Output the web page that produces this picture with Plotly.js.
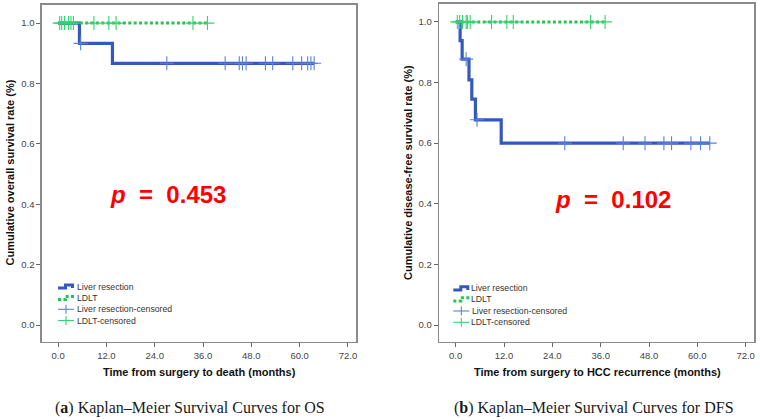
<!DOCTYPE html>
<html>
<head>
<meta charset="utf-8">
<script src="https://cdn.plot.ly/plotly-3.0.1.min.js"></script>
<style>
  html, body { margin: 0; padding: 0; background: #ffffff; }
  #chart { width: 760px; height: 420px; }
</style>
</head>
<body>
<div id="chart"></div>
<script>
// ---- Overall survival (months) ----
const osResectTime = [0, 5.3, 13.5, 63.6];
const osResectSurv = [1.0, 0.933, 0.867, 0.867];
const osResectCensorTime = [5.6, 27.0, 41.5, 45.0, 45.8, 46.7, 51.5, 53.3, 58.3, 60.5, 62.0, 62.8, 63.6];
const osResectCensorSurv = [0.933, 0.867, 0.867, 0.867, 0.867, 0.867, 0.867, 0.867, 0.867, 0.867, 0.867, 0.867, 0.867];
const osLdltTime = [0, 37.1];
const osLdltSurv = [1.0, 1.0];
const osLdltCensorTime = [0.4, 0.9, 1.6, 2.6, 3.2, 3.8, 8.9, 12.6, 14.4, 33.5, 37.1];
const osLdltCensorSurv = [1, 1, 1, 1, 1, 1, 1, 1, 1, 1, 1];

// ---- Disease-free survival (months) ----
const dfsResectTime = [0, 1.1, 1.6, 3.3, 4.0, 4.9, 11.3, 63.1];
const dfsResectSurv = [1.0, 0.938, 0.877, 0.809, 0.745, 0.677, 0.600, 0.600];
const dfsResectCensorTime = [2.6, 5.3, 27.1, 41.6, 47.0, 51.7, 53.6, 58.4, 60.8, 63.1];
const dfsResectCensorSurv = [0.877, 0.677, 0.6, 0.6, 0.6, 0.6, 0.6, 0.6, 0.6, 0.6];
const dfsLdltTime = [0, 37.1];
const dfsLdltSurv = [1.0, 1.0];
const dfsLdltCensorTime = [0.4, 1.0, 1.7, 2.6, 2.9, 3.6, 8.9, 12.7, 14.3, 33.5, 37.1];
const dfsLdltCensorSurv = [1, 1, 1, 1, 1, 1, 1, 1, 1, 1, 1];

// ---- Axis ticks and texts ----
const xTickVals = [0, 12, 24, 36, 48, 60, 72];
const xTickText = ["0.0", "12.0", "24.0", "36.0", "48.0", "60.0", "72.0"];
const yTickVals = [0, 0.2, 0.4, 0.6, 0.8, 1.0];
const yTickText = ["0.0", "0.2", "0.4", "0.6", "0.8", "1.0"];
const pValues = ["0.453", "0.102"];
const xTitles = ["Time from surgery to death (months)", "Time from surgery to HCC recurrence (months)"];
const yTitles = ["Cumulative overall survival rate (%)", "Cumulative disease-free survival rate (%)"];
const captions = ["(<b>a</b>) Kaplan\u2013Meier Survival Curves for OS", "(<b>b</b>) Kaplan\u2013Meier Survival Curves for DFS"];
const legendLabels = ["Liver resection", "LDLT", "Liver resection-censored", "LDLT-censored"];

// ---- Styling ----
const W = 760, H = 420;
const BLUE = "#3359bf", BLUE_LIGHT = "#5b80d8";
const GREEN = "#1fc84c", GREEN_LIGHT = "#35d46e";
const SANS = "Liberation Sans, Arial, sans-serif";
const SERIF = "Liberation Serif, Times New Roman, serif";
const px = x => x / W;
const py = y => 1 - y / H;

function stepLine(t, s, xa, ya, color, dash, width) {
  return { x: t, y: s, xaxis: xa, yaxis: ya, type: "scatter", mode: "lines",
    line: { shape: "hv", color: color, width: width, dash: dash }, showlegend: false, hoverinfo: "skip" };
}
function censorMarks(t, s, xa, ya, color) {
  return { x: t, y: s, xaxis: xa, yaxis: ya, type: "scatter", mode: "markers",
    marker: { symbol: "cross-thin", size: 10, color: color, line: { color: color, width: 1.1 } },
    showlegend: false, hoverinfo: "skip", cliponaxis: false };
}

const data = [
  stepLine(osResectTime, osResectSurv, "x", "y", BLUE, "solid", 3.2),
  stepLine(osLdltTime, osLdltSurv, "x", "y", GREEN, "3px,2.4px", 3),
  censorMarks(osResectCensorTime, osResectCensorSurv, "x", "y", BLUE_LIGHT),
  censorMarks(osLdltCensorTime, osLdltCensorSurv, "x", "y", GREEN_LIGHT),
  stepLine(dfsResectTime, dfsResectSurv, "x2", "y2", BLUE, "solid", 3.2),
  stepLine(dfsLdltTime, dfsLdltSurv, "x2", "y2", GREEN, "3px,2.4px", 3),
  censorMarks(dfsResectCensorTime, dfsResectCensorSurv, "x2", "y2", BLUE_LIGHT),
  censorMarks(dfsLdltCensorTime, dfsLdltCensorSurv, "x2", "y2", GREEN_LIGHT)
];

function xAxis(domain, range) {
  return { domain: domain, range: range, tickvals: xTickVals, ticktext: xTickText,
    ticks: "outside", ticklen: 4, tickwidth: 1, tickcolor: "#666",
    tickfont: { family: SANS, size: 9.5, color: "#444" },
    showgrid: false, zeroline: false, showline: true, mirror: true,
    linecolor: "#8a8a8a", linewidth: 1.6, fixedrange: true };
}
function yAxis(domain, range, anchor) {
  return { domain: domain, range: range, anchor: anchor, tickvals: yTickVals, ticktext: yTickText,
    ticks: "outside", ticklen: 4, tickwidth: 1, tickcolor: "#666",
    tickfont: { family: SANS, size: 9.5, color: "#444" },
    showgrid: false, zeroline: false, showline: true, mirror: true,
    linecolor: "#8a8a8a", linewidth: 1.6, fixedrange: true };
}

const annotations = [];
const shapes = [];
function text(x, y, str, font, extra) {
  annotations.push(Object.assign({ xref: "paper", yref: "paper", x: px(x), y: py(y), text: str,
    showarrow: false, xanchor: "center", yanchor: "middle", font: font }, extra || {}));
}

// Panel texts
const panels = [
  { yTitleX: 9.5, yTitleY: 173, xTitleX: 199, pX: 168, pY: 194, capX: 190,
    iconX: 58, textX: 75, rows: [286.5, 298, 309.3, 320.5] },
  { yTitleX: 408, yTitleY: 173, xTitleX: 597.5, pX: 613.3, pY: 199, capX: 594,
    iconX: 453.3, textX: 469.5, rows: [288.3, 299.3, 311, 322.3] }
];
panels.forEach((p, i) => {
  text(p.yTitleX, p.yTitleY, yTitles[i], { family: SANS, size: 11, color: "#111", weight: "bold" }, { textangle: -90 });
  text(p.xTitleX, 371.7, xTitles[i], { family: SANS, size: 11, color: "#111", weight: "bold" });
  text(p.pX, p.pY, "<b><i>p</i>\u00a0\u00a0=\u00a0\u00a0" + pValues[i] + "</b>", { family: SANS, size: 24, color: "#ff0000" });
  text(p.capX, 408.3, captions[i], { family: SERIF, size: 16, color: "#1a1a1a" });

  // legend block
  legendLabels.forEach((lab, k) => {
    text(p.textX, p.rows[k], lab, { family: SANS, size: 8.7, color: "#333" }, { xanchor: "left" });
  });
  const x0 = p.iconX;
  const stepPath = cy => `M ${px(x0)},${py(cy + 1.6)} H ${px(x0 + 7.5)} V ${py(cy - 1.6)} H ${px(x0 + 14.5)} V ${py(cy + 1.6)}`;
  shapes.push({ type: "path", xref: "paper", yref: "paper", path: stepPath(p.rows[0]),
    line: { color: BLUE, width: 3 } });
  shapes.push({ type: "path", xref: "paper", yref: "paper", path: stepPath(p.rows[1]),
    line: { color: GREEN, width: 3, dash: "3px,2.4px" } });
  [[p.rows[2], BLUE_LIGHT], [p.rows[3], GREEN_LIGHT]].forEach(([cy, c]) => {
    shapes.push({ type: "line", xref: "paper", yref: "paper", x0: px(x0), x1: px(x0 + 16), y0: py(cy), y1: py(cy),
      line: { color: c, width: 1.1 } });
    shapes.push({ type: "line", xref: "paper", yref: "paper", x0: px(x0 + 8), x1: px(x0 + 8), y0: py(cy - 4.5), y1: py(cy + 4.5),
      line: { color: c, width: 1.1 } });
  });
});

const layout = {
  width: W, height: H,
  margin: { l: 0, r: 0, t: 0, b: 0 },
  paper_bgcolor: "#ffffff", plot_bgcolor: "#ffffff",
  showlegend: false,
  xaxis: xAxis([px(42), px(356)], [-4.0, 74.0]),
  yaxis: yAxis([1 - 341.7 / H, 1 - 5 / H], [-0.055, 1.06], "x"),
  xaxis2: Object.assign(xAxis([px(439.3), px(754)], [-4.07, 74.07]), { anchor: "y2" }),
  yaxis2: yAxis([1 - 341.7 / H, 1 - 4 / H], [-0.055, 1.059], "x2"),
  annotations: annotations,
  shapes: shapes
};
layout.xaxis.anchor = "y";

Plotly.newPlot("chart", data, layout, { staticPlot: true, displayModeBar: false });
</script>
</body>
</html>
